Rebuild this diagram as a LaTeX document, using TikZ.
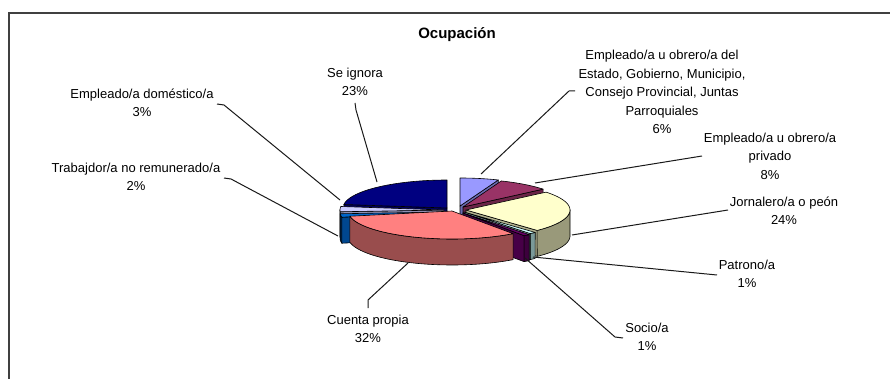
\documentclass[tikz,border=0pt]{standalone}
\usepackage{fontspec}
\setmainfont{Liberation Sans}
\definecolor{cLav}{HTML}{9999FF}
\definecolor{cPlum}{HTML}{993366}
\definecolor{cYel}{HTML}{FFFFCC}
\definecolor{cTurq}{HTML}{CCFFFF}
\definecolor{cDPur}{HTML}{660066}
\definecolor{cSal}{HTML}{FF8080}
\definecolor{cBlue}{HTML}{0066CC}
\definecolor{cIce}{HTML}{CCCCFF}
\definecolor{cNavy}{HTML}{000080}
\def\prx{104}
\def\pry{28}
\def\pdep{26}
% outer wall: apex x, apex y, from angle, to angle, colour
\newcommand\pieWall[5]{%
  \filldraw[face, fill=#5!60!black] plot[domain=#3:#4, samples=40] ({#1+\prx*cos(\x)},{#2-\pry*sin(\x)})
    -- plot[domain=#4:#3, samples=40] ({#1+\prx*cos(\x)},{#2+\pdep-\pry*sin(\x)}) -- cycle;}
% radial cut face: apex x, apex y, angle, colour
\newcommand\pieRadial[4]{%
  \filldraw[face, fill=#4!70!black] (#1,#2) -- ({#1+\prx*cos(#3)},{#2-\pry*sin(#3)})
    -- ({#1+\prx*cos(#3)},{#2+\pdep-\pry*sin(#3)}) -- (#1,{#2+\pdep}) -- cycle;}
% top face: apex x, apex y, from angle, to angle, colour
\newcommand\pieTop[5]{%
  \filldraw[face, fill=#5] (#1,#2) -- plot[domain=#3:#4, samples=40] ({#1+\prx*cos(\x)},{#2-\pry*sin(\x)}) -- cycle;}
\begin{document}
\begin{tikzpicture}[x=1pt,y=-1pt,
  lbl/.style={align=center, font=\fontsize{13}{18.5}\selectfont, inner sep=0pt},
  ttl/.style={font=\fontsize{15}{17}\selectfont\bfseries, inner sep=0pt},
  leader/.style={draw=black!90, line width=1pt, line join=round},
  frameline/.style={draw=black!75, line width=2.5pt},
  face/.style={draw=black, line width=0.6pt, line join=round}]
\useasboundingbox (0,0) rectangle (890,379);
\draw[frameline] (9,379) -- (9,12.8) -- (890,12.8);

% ---- pie, back to front ----
% Se ignora
\pieRadial{447}{208}{172.8}{cNavy}
\pieTop{447}{208}{90}{172.8}{cNavy}
% Estado
\pieRadial{460}{206}{68.4}{cLav}
\pieTop{460}{206}{68.4}{90}{cLav}
% privado
\pieRadial{463}{207}{39.6}{cPlum}
\pieTop{463}{207}{39.6}{68.4}{cPlum}
% domestico
\pieWall{444}{210}{180}{183.6}{cIce}
\pieRadial{444}{210}{183.6}{cIce}
\pieTop{444}{210}{172.8}{183.6}{cIce}
% no remunerado
\pieWall{444}{212}{183.6}{190.8}{cBlue}
\pieRadial{444}{212}{190.8}{cBlue}
\pieTop{444}{212}{183.6}{190.8}{cBlue}
% jornalero
\pieRadial{466}{210}{-46.8}{cYel}
\pieWall{466}{210}{-46.8}{0}{cYel}
\pieTop{466}{210}{-46.8}{39.6}{cYel}
% patrono
\pieRadial{464}{212}{-50.4}{cTurq}
\pieWall{464}{212}{-50.4}{-46.8}{cTurq}
\pieTop{464}{212}{-50.4}{-46.8}{cTurq}
% socio
\pieRadial{463}{213}{-54}{cDPur}
\pieWall{463}{213}{-54}{-50.4}{cDPur}
\pieTop{463}{213}{-54}{-50.4}{cDPur}
% cuenta propia
\pieWall{452}{211}{-169.2}{-54}{cSal}
\pieTop{452}{211}{-169.2}{-54}{cSal}

% ---- labels ----
\node[ttl] (title) at (457,35) {Ocupación};
\node[lbl] (estado) at (662,92) {Empleado/a u obrero/a del\\Estado, Gobierno, Municipio,\\Consejo Provincial, Juntas\\Parroquiales\\6\%};
\node[lbl] (privado) at (770,156) {Empleado/a u obrero/a\\privado\\8\%};
\node[lbl] (jornal) at (784,211) {Jornalero/a o peón\\24\%};
\node[lbl] (patrono) at (747,274) {Patrono/a\\1\%};
\node[lbl] (socio) at (647,337) {Socio/a\\1\%};
\node[lbl] (cuenta) at (368,329) {Cuenta propia\\32\%};
\node[lbl] (trab) at (136,177) {Trabajdor/a no remunerado/a\\2\%};
\node[lbl] (domes) at (142,103) {Empleado/a doméstico/a\\3\%};
\node[lbl] (ignora) at (355,82) {Se ignora\\23\%};

% ---- leader lines ----
\coordinate (eA) at (575,91);   \coordinate (eB) at (569,91);  \coordinate (eP) at (481,174);
\coordinate (pA) at (702,156);  \coordinate (pP) at (535,183);
\coordinate (jA) at (728,210);  \coordinate (jP) at (572,235);
\coordinate (tA) at (717,275);  \coordinate (tP) at (533,257);
\coordinate (sA) at (623,338);  \coordinate (sB) at (615,337); \coordinate (sP) at (525,258);
\coordinate (cA) at (368,308);  \coordinate (cB) at (368,300); \coordinate (cP) at (408,263);
\coordinate (iA) at (355,103);  \coordinate (iB) at (356,110); \coordinate (iP) at (377,182);
\coordinate (dA) at (217,104);  \coordinate (dB) at (224,105); \coordinate (dP) at (340,200);
\coordinate (rA) at (224,178);  \coordinate (rB) at (231,179); \coordinate (rP) at (338,236);
\draw[leader] (eA) -- (eB) -- (eP);
\draw[leader] (pA) -- (pP);
\draw[leader] (jA) -- (jP);
\draw[leader] (tA) -- (tP);
\draw[leader] (sA) -- (sB) -- (sP);
\draw[leader] (cA) -- (cB) -- (cP);
\draw[leader] (iA) -- (iB) -- (iP);
\draw[leader] (dA) -- (dB) -- (dP);
\draw[leader] (rA) -- (rB) -- (rP);
\end{tikzpicture}
\end{document}
